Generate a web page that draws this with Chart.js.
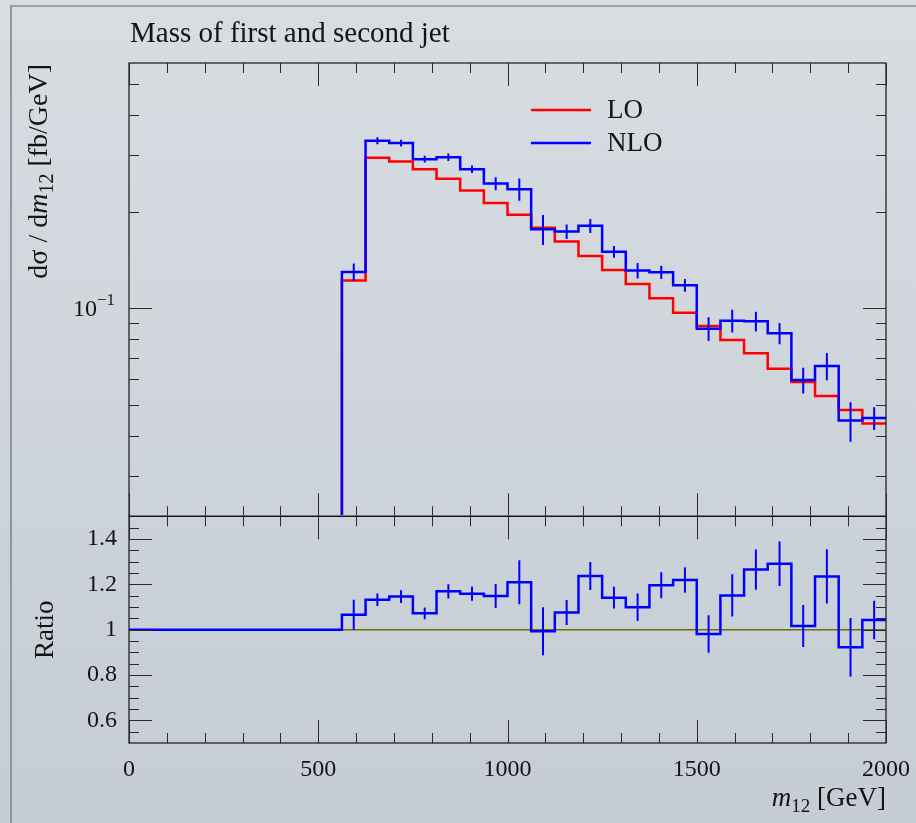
<!DOCTYPE html>
<html>
<head>
<meta charset="utf-8">
<title>Mass of first and second jet</title>
<script src="https://cdn.jsdelivr.net/npm/chart.js@4.4.1/dist/chart.umd.min.js"></script>
<style>
  html, body { margin: 0; padding: 0; }
  body {
    width: 916px; height: 823px; overflow: hidden; position: relative;
    background: linear-gradient(to bottom, #d8dde2 0%, #c5ccd4 100%);
  }
  #edge {
    position: absolute; left: 10px; top: 5px; right: 0; bottom: 0;
    border-left: 2px solid #90969d; border-top: 2px solid #9ca2a8;
  }
  #wrap { position: absolute; left: 0; top: 0; width: 916px; height: 823px; }
</style>
</head>
<body>
<div id="edge"></div>
<div id="wrap"><canvas id="jetChart" width="916" height="823"></canvas></div>
<script>
// bin edges in GeV (32 bins of 62.5 GeV)
const binEdges = [0, 62.5, 125, 187.5, 250, 312.5, 375, 437.5, 500, 562.5, 625, 687.5,
  750, 812.5, 875, 937.5, 1000, 1062.5, 1125, 1187.5, 1250, 1312.5, 1375, 1437.5,
  1500, 1562.5, 1625, 1687.5, 1750, 1812.5, 1875, 1937.5, 2000];

// dsigma/dm12 [fb/GeV]
const lo = [0, 0, 0, 0, 0, 0, 0, 0, 0,
  0.122, 0.294, 0.2862, 0.271, 0.2528, 0.2325, 0.2128, 0.1953, 0.1782, 0.1612, 0.1455, 0.1316,
  0.119, 0.1074, 0.0969, 0.0881, 0.0796, 0.0724, 0.0648, 0.0589, 0.0533, 0.0482, 0.0438];
const nlo = [0, 0, 0, 0, 0, 0, 0, 0, 0,
  0.1297, 0.3324, 0.3266, 0.2911, 0.2953, 0.271, 0.2444, 0.2348, 0.1762, 0.1732, 0.1805, 0.150,
  0.131, 0.1295, 0.118, 0.0864, 0.0915, 0.0911, 0.0836, 0.0598, 0.0661, 0.0447, 0.0455];
const nloErr = [0, 0, 0, 0, 0, 0, 0, 0, 0,
  0.0080, 0.0082, 0.0080, 0.0071, 0.0078, 0.0072, 0.0113, 0.0188, 0.0188, 0.0089, 0.0090, 0.0063,
  0.0073, 0.0062, 0.0054, 0.0073, 0.0074, 0.0064, 0.0063, 0.0055, 0.0064, 0.0063, 0.0037];

// NLO / LO
const ratio = [1, 1, 1, 1, 1, 1, 1, 1, 1,
  1.066, 1.132, 1.146, 1.072, 1.169, 1.159, 1.149, 1.209, 0.993, 1.076, 1.237, 1.141,
  1.099, 1.196, 1.219, 0.981, 1.151, 1.265, 1.291, 1.016, 1.235, 0.922, 1.043];
const ratioErr = [0, 0, 0, 0, 0, 0, 0, 0, 0,
  0.066, 0.028, 0.028, 0.026, 0.031, 0.031, 0.053, 0.097, 0.106, 0.055, 0.062, 0.048,
  0.061, 0.057, 0.056, 0.083, 0.093, 0.089, 0.098, 0.093, 0.12, 0.13, 0.085];
const refRatio = 1;

// axis ranges and ticks
const xRange = [0, 2000];
const xLabels = [0, 500, 1000, 1500, 2000];
const xTicks = [0, 100, 200, 300, 400, 500, 600, 700, 800, 900, 1000,
  1100, 1200, 1300, 1400, 1500, 1600, 1700, 1800, 1900, 2000];
const mainRange = [0.0225, 0.58];
const logTicks = [0.03, 0.04, 0.05, 0.06, 0.07, 0.08, 0.09, 0.1, 0.2, 0.3, 0.4, 0.5];
const ratioRange = [0.5, 1.5];
const ratioLabels = [0.6, 0.8, 1, 1.2, 1.4];
const ratioTicks = [0.55, 0.6, 0.65, 0.7, 0.75, 0.8, 0.85, 0.9, 0.95, 1, 1.05, 1.1,
  1.15, 1.2, 1.25, 1.3, 1.35, 1.4, 1.45];

const RED = '#ff0000';
const BLUE = '#0000ff';
const OLIVE = '#6f6c00';
const INK = '#141414';
const SERIF = "'Liberation Serif', 'Times New Roman', serif";

Chart.defaults.font.family = SERIF;
Chart.defaults.color = INK;

// histogram outline: each bin value held from its left edge to the next edge.
// floor: empty bins sit on the axis floor (log axis cannot show zero)
function stepPoints(values, floor) {
  const yv = v => (floor === undefined ? v : Math.max(v, floor));
  const pts = values.map((v, i) => ({ x: binEdges[i], y: yv(v) }));
  pts.push({ x: binEdges[values.length], y: yv(values[values.length - 1]) });
  return pts;
}

// vertical error bars at bin centres, separated by gaps
function errorPoints(values, errs) {
  const pts = [];
  values.forEach((v, i) => {
    if (!errs[i]) return;
    const c = (binEdges[i] + binEdges[i + 1]) / 2;
    pts.push({ x: c, y: v - errs[i] }, { x: c, y: v + errs[i] }, { x: c, y: null });
  });
  return pts;
}

// draw a run of text pieces (font changes, sub/superscripts) left to right
function richWidth(ctx, parts) {
  let w = 0;
  parts.forEach(p => { ctx.font = p.font; w += ctx.measureText(p.text).width; });
  return w;
}
function drawRich(ctx, parts, x, y) {
  let cx = x;
  parts.forEach(p => {
    ctx.font = p.font;
    ctx.fillText(p.text, cx, y + (p.dy || 0));
    cx += ctx.measureText(p.text).width;
  });
}

const plotFrame = {
  id: 'plotFrame',
  afterDatasetsDraw(chart) {
    const { ctx } = chart;
    const x = chart.scales.x;
    const yMain = chart.scales.y;
    const yRatio = chart.scales.yr;

    ctx.save();
    ctx.strokeStyle = INK;
    ctx.lineWidth = 1.2;
    [yMain, yRatio].forEach(s => ctx.strokeRect(x.left, s.top, x.right - x.left, s.bottom - s.top));

    // inward ticks on all four sides of both panels
    ctx.lineWidth = 1;
    ctx.strokeStyle = '#2a2a2a';
    ctx.beginPath();
    [yMain, yRatio].forEach(s => {
      xTicks.forEach(v => {
        const px = Math.round(x.getPixelForValue(v)) + 0.5;
        const len = v % 500 === 0 ? 23 : 10;
        ctx.moveTo(px, s.top); ctx.lineTo(px, s.top + len);
        ctx.moveTo(px, s.bottom); ctx.lineTo(px, s.bottom - len);
      });
    });
    const hTick = (s, v, len) => {
      const py = Math.round(s.getPixelForValue(v)) + 0.5;
      ctx.moveTo(x.left, py); ctx.lineTo(x.left + len, py);
      ctx.moveTo(x.right, py); ctx.lineTo(x.right - len, py);
    };
    logTicks.forEach(v => hTick(yMain, v, v === 0.1 ? 23 : 10));
    ratioTicks.forEach(v => hTick(yRatio, v, ratioLabels.includes(v) ? 23 : 10));
    ctx.stroke();
    ctx.restore();
  },
  afterDraw(chart) {
    const { ctx } = chart;
    const x = chart.scales.x;
    const yMain = chart.scales.y;
    const yRatio = chart.scales.yr;

    ctx.save();
    ctx.fillStyle = INK;
    ctx.textBaseline = 'alphabetic';
    ctx.textAlign = 'left';

    // title
    ctx.font = `29px ${SERIF}`;
    ctx.fillText('Mass of first and second jet', x.left + 1, 42);

    // 10^-1 label on the log axis
    const py = yMain.getPixelForValue(0.1);
    const base = [{ text: '10', font: `24px ${SERIF}` }, { text: '\u22121', font: `17px ${SERIF}`, dy: -11 }];
    drawRich(ctx, base, x.left - 14 - richWidth(ctx, base), py + 8);

    // y title of the main panel, rotated, ending at the panel top
    const yTitle = [
      { text: 'd\u03c3 / d', font: `28px ${SERIF}` },
      { text: 'm', font: `italic 28px ${SERIF}` },
      { text: '12', font: `20px ${SERIF}`, dy: 6 },
      { text: ' [fb/GeV]', font: `28px ${SERIF}` }
    ];
    const wy = richWidth(ctx, yTitle);
    ctx.save();
    ctx.translate(47, yMain.top + 1 + wy);
    ctx.rotate(-Math.PI / 2);
    drawRich(ctx, yTitle, 0, 0);
    ctx.restore();

    // ratio title, centred on its panel
    ctx.save();
    ctx.font = `27px ${SERIF}`;
    ctx.translate(53, (yRatio.top + yRatio.bottom) / 2);
    ctx.rotate(-Math.PI / 2);
    ctx.textAlign = 'center';
    ctx.fillText('Ratio', 0, 0);
    ctx.restore();

    // x title, right aligned
    const xTitle = [
      { text: 'm', font: `italic 27px ${SERIF}` },
      { text: '12', font: `19px ${SERIF}`, dy: 6 },
      { text: ' [GeV]', font: `27px ${SERIF}` }
    ];
    drawRich(ctx, xTitle, x.right - richWidth(ctx, xTitle), 806);

    // legend
    const legend = [['LO', RED, 110], ['NLO', BLUE, 143]];
    legend.forEach(([label, color, ly]) => {
      ctx.strokeStyle = color;
      ctx.lineWidth = 2.5;
      ctx.beginPath();
      ctx.moveTo(531, ly); ctx.lineTo(591, ly);
      ctx.stroke();
      ctx.font = `27px ${SERIF}`;
      ctx.textBaseline = 'middle';
      ctx.fillText(label, 607, ly + 1);
    });
    ctx.restore();
  }
};

const histStyle = {
  stepped: true,
  pointRadius: 0,
  borderWidth: 2.5,
  borderJoinStyle: 'miter',
  borderCapStyle: 'butt',
  fill: false
};
const errStyle = { pointRadius: 0, borderWidth: 2, borderCapStyle: 'butt', fill: false, spanGaps: false };
const floorClip = { left: 0, top: 0, right: 0, bottom: -1.3 };

const ctx = document.getElementById('jetChart').getContext('2d');
new Chart(ctx, {
  type: 'line',
  data: {
    datasets: [
      { label: 'NLO', data: stepPoints(nlo, mainRange[0]), yAxisID: 'y', borderColor: BLUE, order: 1,
        clip: floorClip, ...histStyle },
      { label: 'NLO error', data: errorPoints(nlo, nloErr), yAxisID: 'y', borderColor: BLUE, order: 1,
        clip: 0, ...errStyle },
      { label: 'LO', data: stepPoints(lo, mainRange[0]), yAxisID: 'y', borderColor: RED, order: 3,
        clip: floorClip, ...histStyle },
      { label: 'NLO/LO', data: stepPoints(ratio), yAxisID: 'yr', borderColor: BLUE, order: 1,
        clip: 0, ...histStyle },
      { label: 'NLO/LO error', data: errorPoints(ratio, ratioErr), yAxisID: 'yr', borderColor: BLUE, order: 1,
        clip: 0, ...errStyle },
      { label: 'LO/LO', data: [{ x: xRange[0], y: refRatio }, { x: xRange[1], y: refRatio }],
        yAxisID: 'yr', borderColor: OLIVE, borderWidth: 1.5, pointRadius: 0, order: 5, clip: 0 }
    ]
  },
  options: {
    responsive: false,
    animation: false,
    events: [],
    layout: { padding: { top: 63, right: 30, bottom: 0, left: 0 } },
    plugins: { legend: { display: false }, title: { display: false }, tooltip: { enabled: false } },
    scales: {
      x: {
        type: 'linear',
        min: xRange[0],
        max: xRange[1],
        position: 'bottom',
        grid: { display: false, drawTicks: false },
        border: { display: false },
        afterBuildTicks: s => { s.ticks = xLabels.map(v => ({ value: v })); },
        ticks: {
          autoSkip: false,
          maxRotation: 0,
          padding: 12,
          font: { size: 24 },
          color: INK,
          callback: v => String(v)
        },
        afterFit: s => { s.height = 80; s.paddingLeft = 0; s.paddingRight = 0; }
      },
      // ratio panel listed first so it sits below the main panel in the stack
      yr: {
        type: 'linear',
        position: 'left',
        stack: 'panels',
        stackWeight: 1,
        min: ratioRange[0],
        max: ratioRange[1],
        grid: { display: false, drawTicks: false },
        border: { display: false },
        afterBuildTicks: s => { s.ticks = ratioLabels.map(v => ({ value: v })); },
        ticks: {
          autoSkip: false,
          padding: 12,
          font: { size: 24 },
          color: INK,
          callback: v => String(Number(v.toFixed(2)))
        },
        afterFit: s => { s.width = 129; }
      },
      y: {
        type: 'logarithmic',
        position: 'left',
        stack: 'panels',
        stackWeight: 2,
        min: mainRange[0],
        max: mainRange[1],
        grid: { display: false, drawTicks: false },
        border: { display: false },
        ticks: { display: false },
        afterFit: s => { s.width = 129; }
      }
    }
  },
  plugins: [plotFrame]
});
</script>
</body>
</html>
